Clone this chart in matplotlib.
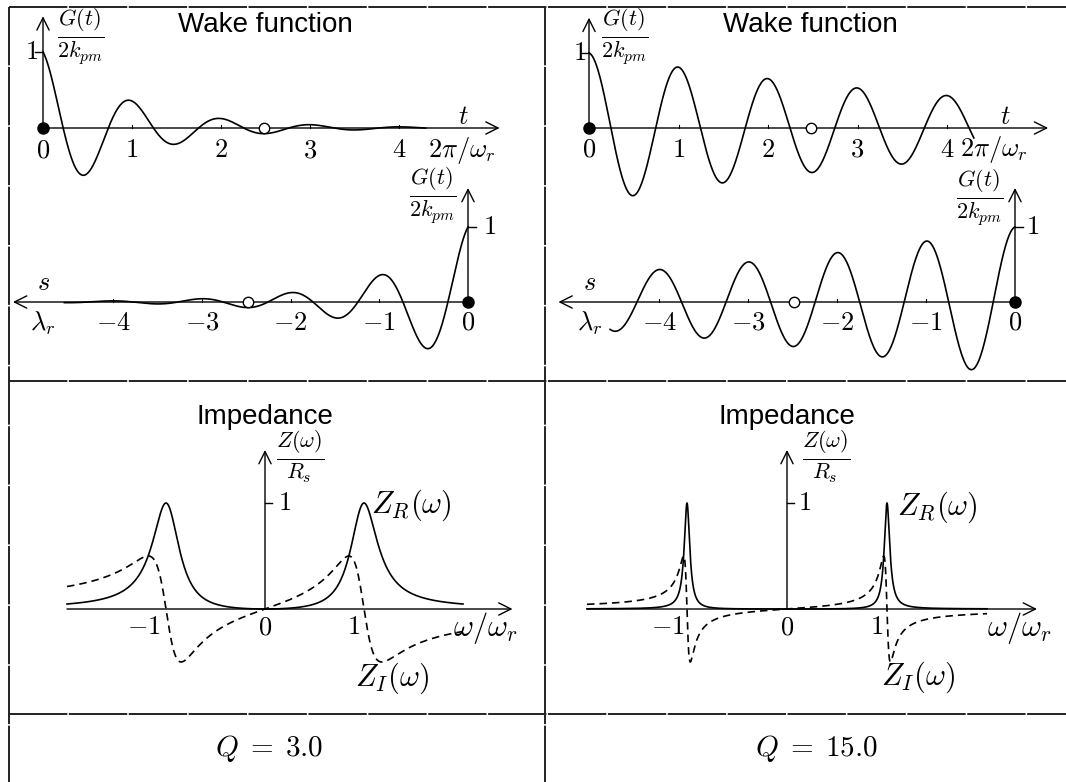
import numpy as np
import matplotlib
matplotlib.use("Agg")
import matplotlib.pyplot as plt

plt.rcParams['mathtext.fontset'] = 'cm'
plt.rcParams['font.family'] = ['Liberation Sans', 'DejaVu Sans']

# ---------------- data ----------------
Q_values = [3.0, 15.0]
q_labels = [r'$Q\;=\;3.0$', r'$Q\;=\;15.0$']
wake_ticks_top = [0, 1, 2, 3, 4]
wake_ticks_bottom = [-4, -3, -2, -1, 0]
wake_t_end = 4.3          # end of plotted wake (top)
wake_s_end = -4.55        # end of plotted wake (bottom)
open_marker_t = 2.48
imp_ticks = [-1, 0, 1]
imp_range = [-2.0, 2.0]

W, H = 1066, 782
fig = plt.figure(figsize=(W / 100, H / 100), dpi=100)

def panel(ox, oy, sx, sy, xlim, ylim):
    left = (ox + sx * xlim[0]) / W
    right = (ox + sx * xlim[1]) / W
    top_px = oy - sy * ylim[1]
    bot_px = oy - sy * ylim[0]
    ax = fig.add_axes([left, 1 - bot_px / H, right - left, (bot_px - top_px) / H])
    ax.set_xlim(xlim)
    ax.set_ylim(ylim)
    ax.axis('off')
    return ax

def arrow(ax, x0, y0, x1, y1):
    ax.annotate('', xy=(x1, y1), xytext=(x0, y0),
                arrowprops=dict(arrowstyle='->', lw=1.0, color='black',
                                mutation_scale=22, shrinkA=0, shrinkB=0),
                annotation_clip=False)

def wake(t, Q):
    wr = 2 * np.pi
    a = wr / (2 * Q)
    wb = wr * np.sqrt(1 - 1 / (4 * Q ** 2))
    return np.exp(-a * t) * (np.cos(wb * t) - a / wb * np.sin(wb * t))

def impedance(x, Q):
    den = x ** 2 + Q ** 2 * (x ** 2 - 1) ** 2
    return x ** 2 / den, -x * Q * (x ** 2 - 1) / den

FS = 19      # tick numbers
FSL = 22     # Z labels
FSF = 23     # fractions
FST = 20     # titles
LW = 1.2

cols = [
    dict(top=(43, 128, 89, 76), bot=(468, 302, 88.7, 75), imp=(265, 609, 99, 106),
         tlab=4.33, frac_top=(0.43, 1.2), frac_bot=(-0.39, 1.42),
         one_top=-0.13, one_bot=0.24, t_lab=4.72, s_lab=-4.79,
         imp_lab={-1: -1.22, 0: 0.0, 1: 0.89}, zr=(1.48, 0.98), zi=(1.28, -0.65),
         wlab=1.9, frac_imp=(0.36, 1.44), one_imp=0.2,
         title_x=265, imp_title_x=265, q_x=269),
    dict(top=(589, 128, 89.5, 75), bot=(1015, 302, 89, 75), imp=(787, 609, 100, 106),
         tlab=4.15, frac_top=(0.40, 1.22), frac_bot=(-0.39, 1.39),
         one_top=-0.11, one_bot=0.2, t_lab=4.65, s_lab=-4.78,
         imp_lab={-1: -1.19, 0: 0.0, 1: 0.9}, zr=(1.5, 0.96), zi=(1.31, -0.64),
         wlab=2.0, frac_imp=(0.39, 1.44), one_imp=0.18,
         title_x=810, imp_title_x=787, q_x=816),
]

for Q, c, ql in zip(Q_values, cols, q_labels):
    # ---------- top wake ----------
    ax = panel(*c['top'], xlim=(-0.45, 5.6), ylim=(-1.05, 1.62))
    t = np.linspace(0, wake_t_end, 800)
    ax.plot(t, wake(t, Q), color='black', lw=LW, clip_on=False)
    arrow(ax, 0, 0, 5.13, 0)
    arrow(ax, 0, 0, 0, 1.47)
    ax.plot([-0.09, 0], [1, 1], color='black', lw=1.0)
    ax.plot(0, 0, 'o', color='black', ms=8, clip_on=False, zorder=5)
    ax.plot(open_marker_t, 0, 'o', mfc='white', mec='black', mew=1.0, ms=7.5, zorder=5)
    for k in wake_ticks_top:
        if k:
            ax.plot([k, k], [0, 0.04], color='black', lw=0.8)
        ax.text(k, -0.29, f'${k}$', ha='center', va='center', fontsize=FS)
    ax.text(c['one_top'], 1.0, r'$1$', ha='center', va='center', fontsize=FS)
    ax.text(c['t_lab'], 0.15, r'$t$', ha='center', va='center', fontsize=FS)
    ax.text(c['tlab'], -0.29, r'$2\pi/\omega_r$', ha='left', va='center', fontsize=FS)
    ax.text(*c['frac_top'], r'$\frac{G(t)}{2k_{pm}}$', ha='center', va='center', fontsize=FSF)

    # ---------- bottom wake ----------
    ax = panel(*c['bot'], xlim=(-5.3, 0.5), ylim=(-1.05, 1.62))
    s = np.linspace(wake_s_end, 0, 800)
    ax.plot(s, wake(-s, Q), color='black', lw=LW, clip_on=False)
    arrow(ax, 0, 0, -5.13, 0)
    arrow(ax, 0, 0, 0, 1.52)
    ax.plot([0, 0.09], [1, 1], color='black', lw=1.0)
    ax.plot(0, 0, 'o', color='black', ms=8, clip_on=False, zorder=5)
    ax.plot(-open_marker_t, 0, 'o', mfc='white', mec='black', mew=1.0, ms=7.5, zorder=5)
    for k in wake_ticks_bottom:
        if k:
            ax.plot([k, k], [0, 0.04], color='black', lw=0.8)
        ax.text(k, -0.28, f'${k}$', ha='center', va='center', fontsize=FS)
    ax.text(c['one_bot'], 1.0, r'$1$', ha='center', va='center', fontsize=FS)
    ax.text(c['s_lab'], 0.25, r'$s$', ha='center', va='center', fontsize=FS)
    ax.text(c['s_lab'], -0.28, r'$\lambda_r$', ha='center', va='center', fontsize=FS)
    ax.text(*c['frac_bot'], r'$\frac{G(t)}{2k_{pm}}$', ha='center', va='center', fontsize=FSF)

    # ---------- impedance ----------
    ax = panel(*c['imp'], xlim=(-2.3, 2.7), ylim=(-0.9, 1.7))
    w = np.linspace(imp_range[0], imp_range[1], 8001)
    zr, zi = impedance(w, Q)
    ax.plot(w, zr, color='black', lw=LW)
    ax.plot(w, zi, color='black', lw=LW, linestyle=(0, (4.5, 3)))
    arrow(ax, -2.0, 0, 2.5, 0)
    arrow(ax, 0, 0, 0, 1.5)
    ax.plot([0, 0.07], [1, 1], color='black', lw=1.0)
    for k in imp_ticks:
        ax.text(c['imp_lab'][k], -0.17, f'${k}$', ha='center', va='center', fontsize=FS)
    ax.text(c['one_imp'], 1.0, r'$1$', ha='center', va='center', fontsize=FS)
    ax.text(*c['frac_imp'], r'$\frac{Z(\omega)}{R_s}$', ha='center', va='center', fontsize=FSF)
    ax.text(*c['zr'], r'$Z_R(\omega)$', ha='center', va='center', fontsize=FSL)
    ax.text(*c['zi'], r'$Z_I(\omega)$', ha='center', va='center', fontsize=FSL)
    ax.text(c['wlab'], -0.18, r'$\omega/\omega_r$', ha='left', va='center', fontsize=FSL)

    # ---------- titles ----------
    fig.text(c['title_x'] / W, 1 - 25 / H, 'Wake function', ha='center', va='center', fontsize=FST)
    fig.text(c['imp_title_x'] / W, 1 - 417 / H, 'Impedance', ha='center', va='center', fontsize=FST)
    fig.text(c['q_x'] / W, 1 - 748 / H, ql, ha='center', va='center', fontsize=21)

# ---------- table borders ----------
bax = fig.add_axes([0, 0, 1, 1])
bax.set_xlim(0, W)
bax.set_ylim(H, 0)
bax.axis('off')
bstyle = dict(color='#222222', lw=1.4, linestyle=(0, (30, 0.8)))
bax.plot([9, W], [7, 7], **bstyle)
bax.plot([9, W], [381, 381], **bstyle)
bax.plot([9, W], [714, 714], **bstyle)
bax.plot([9, 9], [7, H], **bstyle)
bax.plot([545, 545], [7, H], **bstyle)

fig.savefig('out.png', dpi=100)
